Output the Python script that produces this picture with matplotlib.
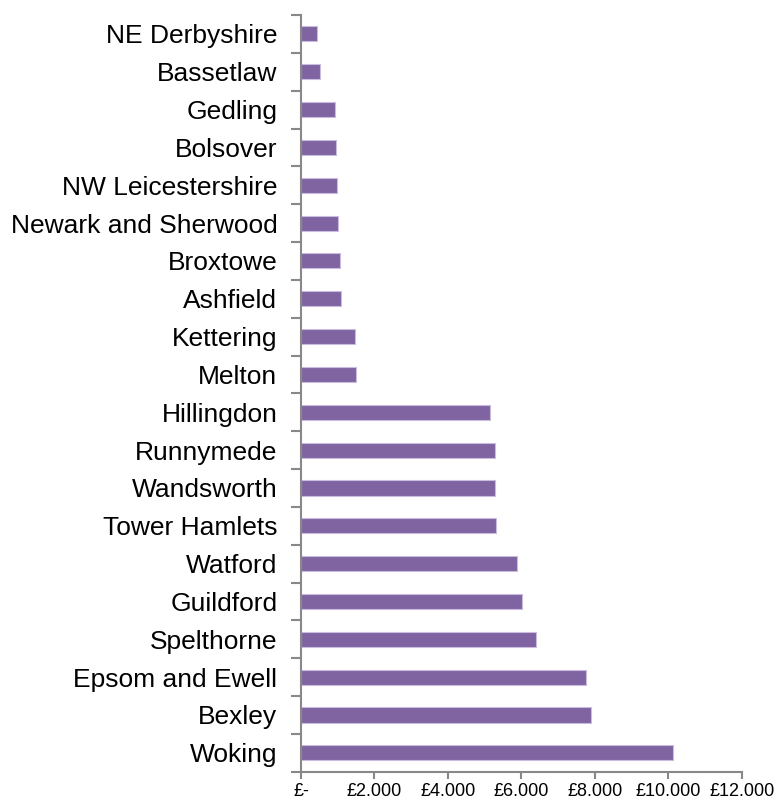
import matplotlib
matplotlib.use("Agg")
import matplotlib.pyplot as plt
import numpy as np
from matplotlib.ticker import FixedLocator

plt.rcParams['font.family'] = ['Liberation Sans', 'DejaVu Sans']

categories = ["NE Derbyshire", "Bassetlaw", "Gedling", "Bolsover", "NW Leicestershire",
              "Newark and Sherwood", "Broxtowe", "Ashfield", "Kettering", "Melton",
              "Hillingdon", "Runnymede", "Wandsworth", "Tower Hamlets", "Watford",
              "Guildford", "Spelthorne", "Epsom and Ewell", "Bexley", "Woking"]
values = [427, 527, 917, 962, 989, 1016, 1071, 1098, 1461, 1489,
          5155, 5280, 5283, 5310, 5873, 6009, 6408, 7770, 7888, 10121]
xticks = [0, 2000, 4000, 6000, 8000, 10000, 12000]
xticklabels = ["£-", "£2.000", "£4.000", "£6.000", "£8.000", "£10.000", "£12.000"]

fig = plt.figure(figsize=(7.77, 8.0), dpi=100)
ax = fig.add_axes([301/777, 1 - 771.7/800, (741.7 - 301)/777, (771.7 - 15)/800])

y = np.arange(len(categories))
ax.barh(y, values, height=0.4, color="#8064A2", edgecolor="#C9BCDD", linewidth=0.8)

ax.set_xlim(0, 12000)
ax.set_ylim(len(categories) - 0.5, -0.5)

ax.set_yticks(y)
ax.set_yticklabels(categories, fontsize=19)
ax.tick_params(axis='y', which='major', length=0, pad=17)
ax.yaxis.set_minor_locator(FixedLocator(np.arange(-0.5, len(categories), 1.0)))
ax.tick_params(axis='y', which='minor', length=7, width=1.5, color="#888888", direction='out')

ax.set_xticks(xticks)
ax.set_xticklabels(xticklabels, fontsize=13)
ax.tick_params(axis='x', which='major', length=5, width=1.5, color="#888888", direction='out', pad=3)

for s in ['top', 'right']:
    ax.spines[s].set_visible(False)
for s in ['left', 'bottom']:
    ax.spines[s].set_color("#888888")
    ax.spines[s].set_linewidth(1.5)

fig.savefig("out.png", dpi=100)
